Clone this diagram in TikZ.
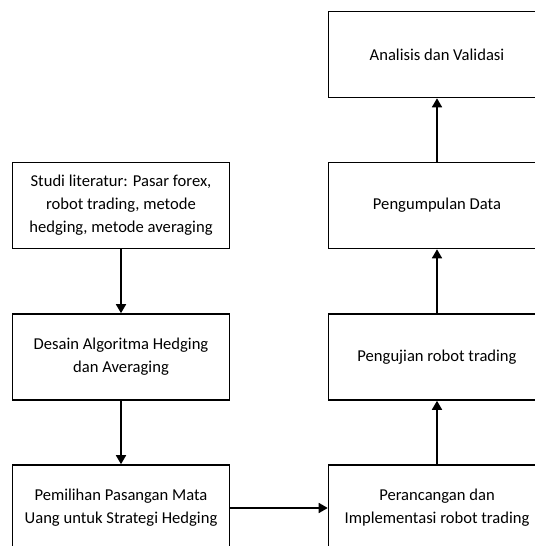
\documentclass[tikz,border=0pt]{standalone}
\usepackage{fontspec}
\setmainfont{Carlito}
\usepackage{tikz}
\usetikzlibrary{shapes,arrows.meta}
\tikzstyle{block} = [draw,line width=1.6pt,rectangle,align=center,minimum height=86pt,
    minimum width=217pt,inner sep=0.5ex,font=\fontsize{16.6}{23}\selectfont]
\tikzstyle{arrow} = [line width=1.6pt,-{Triangle[length=9pt,width=10pt]}]

\begin{document}
\begin{tikzpicture}[x=1pt,y=1pt]
                        \clip (0,0) rectangle (535,546);
                        % left column
                        \node[block] (studi) at (121,340.5)
                            {Studi literatur: Pasar forex,\\robot trading, metode\\hedging, metode averaging};
                        \node[block] (desain) at (121,189)
                            {Desain Algoritma Hedging\\dan Averaging};
                        \node[block] (pemilihan) at (121,38)
                            {Pemilihan Pasangan Mata\\Uang untuk Strategi Hedging};
                        % right column
                        \node[block] (perancangan) at (437,38)
                            {Perancangan dan\\Implementasi robot trading};
                        \node[block] (pengujian) at (437,189)
                            {Pengujian robot trading};
                        \node[block] (pengumpulan) at (437,340.5)
                            {Pengumpulan Data};
                        \node[block] (analisis) at (437,491.5)
                            {Analisis dan Validasi};
                        % arrows
                        \draw[arrow] (studi) -- (desain);
                        \draw[arrow] (desain) -- (pemilihan);
                        \draw[arrow] (pemilihan) -- (perancangan);
                        \draw[arrow] (perancangan) -- (pengujian);
                        \draw[arrow] (pengujian) -- (pengumpulan);
                        \draw[arrow] (pengumpulan) -- (analisis);
                    \end{tikzpicture}
\end{document}
